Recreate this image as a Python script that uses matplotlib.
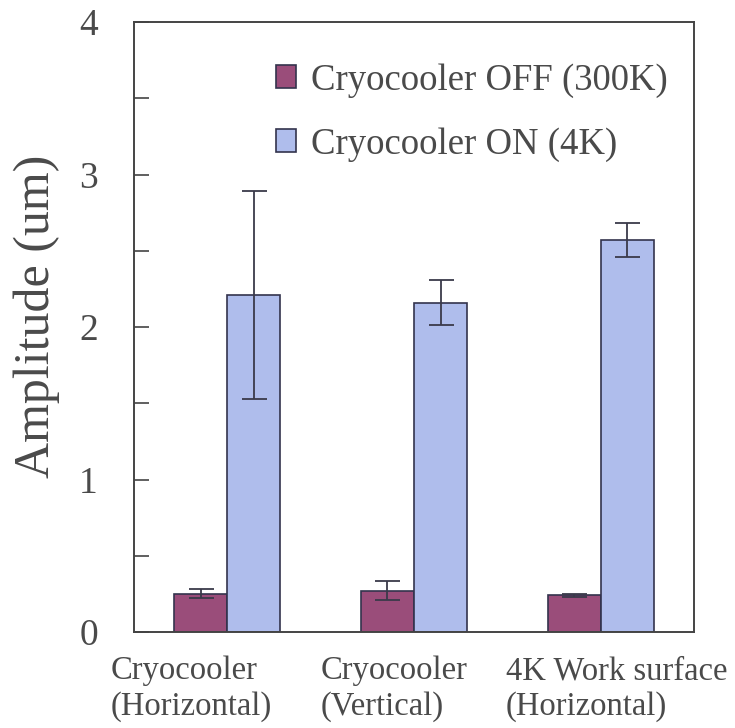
import numpy as np
import matplotlib
matplotlib.use('Agg')
from matplotlib import pyplot as plt
from matplotlib.ticker import MultipleLocator
from matplotlib.transforms import ScaledTranslation

categories = ['Cryocooler\n(Horizontal)', 'Cryocooler\n(Vertical)', '4K Work surface\n(Horizontal)']
off_vals = [0.25, 0.27, 0.24]
off_err = [0.03, 0.062, 0.01]
on_vals = [2.21, 2.16, 2.57]
on_err = [0.68, 0.15, 0.11]
series_names = ['Cryocooler OFF (300K)', 'Cryocooler ON (4K)']

plt.rcParams['font.family'] = ['Liberation Serif', 'DejaVu Serif']
txt = '#4a4a4a'
edge = '#33334d'

fig = plt.figure(figsize=(7.35, 7.28), dpi=100)
ax = fig.add_axes([134/735, 1-632/728, 560/735, 610/728])

x = np.arange(len(categories))
w = 0.284
ekw = dict(ecolor='#3a3a4a', elinewidth=1.3, capsize=9, capthick=1.3)
ax.bar(x - w/2, off_vals, w, yerr=off_err, color='#9a4d7a', edgecolor=edge,
       linewidth=1.2, error_kw=ekw, label=series_names[0])
ax.bar(x + w/2, on_vals, w, yerr=on_err, color='#afbdec', edgecolor=edge,
       linewidth=1.2, error_kw=ekw, label=series_names[1])

ax.set_xlim(-0.5, 2.5)
ax.set_ylim(0, 4)
ax.yaxis.set_major_locator(MultipleLocator(1))
ax.yaxis.set_minor_locator(MultipleLocator(0.5))
ax.tick_params(axis='y', which='both', direction='in', length=11, width=1.2,
               color='#444444', labelsize=27, labelcolor=txt, pad=26)
ax.tick_params(axis='x', length=0, labelsize=23.5, labelcolor=txt, pad=17)
for s in ax.spines.values():
    s.set_color('#444444')
    s.set_linewidth(1.4)

ax.set_xticks(x)
ax.set_xticklabels(categories, multialignment='left', linespacing=1.22)
shifts = [-36, -20, 16]
for lab, dx in zip(ax.get_xticklabels(), shifts):
    lab.set_transform(lab.get_transform() + ScaledTranslation(dx/100, 0, fig.dpi_scale_trans))

ax.set_ylabel('Amplitude (um)', fontsize=36, color=txt)
ax.yaxis.set_label_coords(-0.132, 0.518)

leg = ax.legend(loc='upper right', frameon=False, fontsize=26.5, handlelength=0.55,
                handleheight=0.55, handletextpad=0.42, labelspacing=0.8,
                bbox_to_anchor=(1.0, 0.975), borderaxespad=0.3)
for t in leg.get_texts():
    t.set_color(txt)

fig.savefig('out.png', dpi=100)
